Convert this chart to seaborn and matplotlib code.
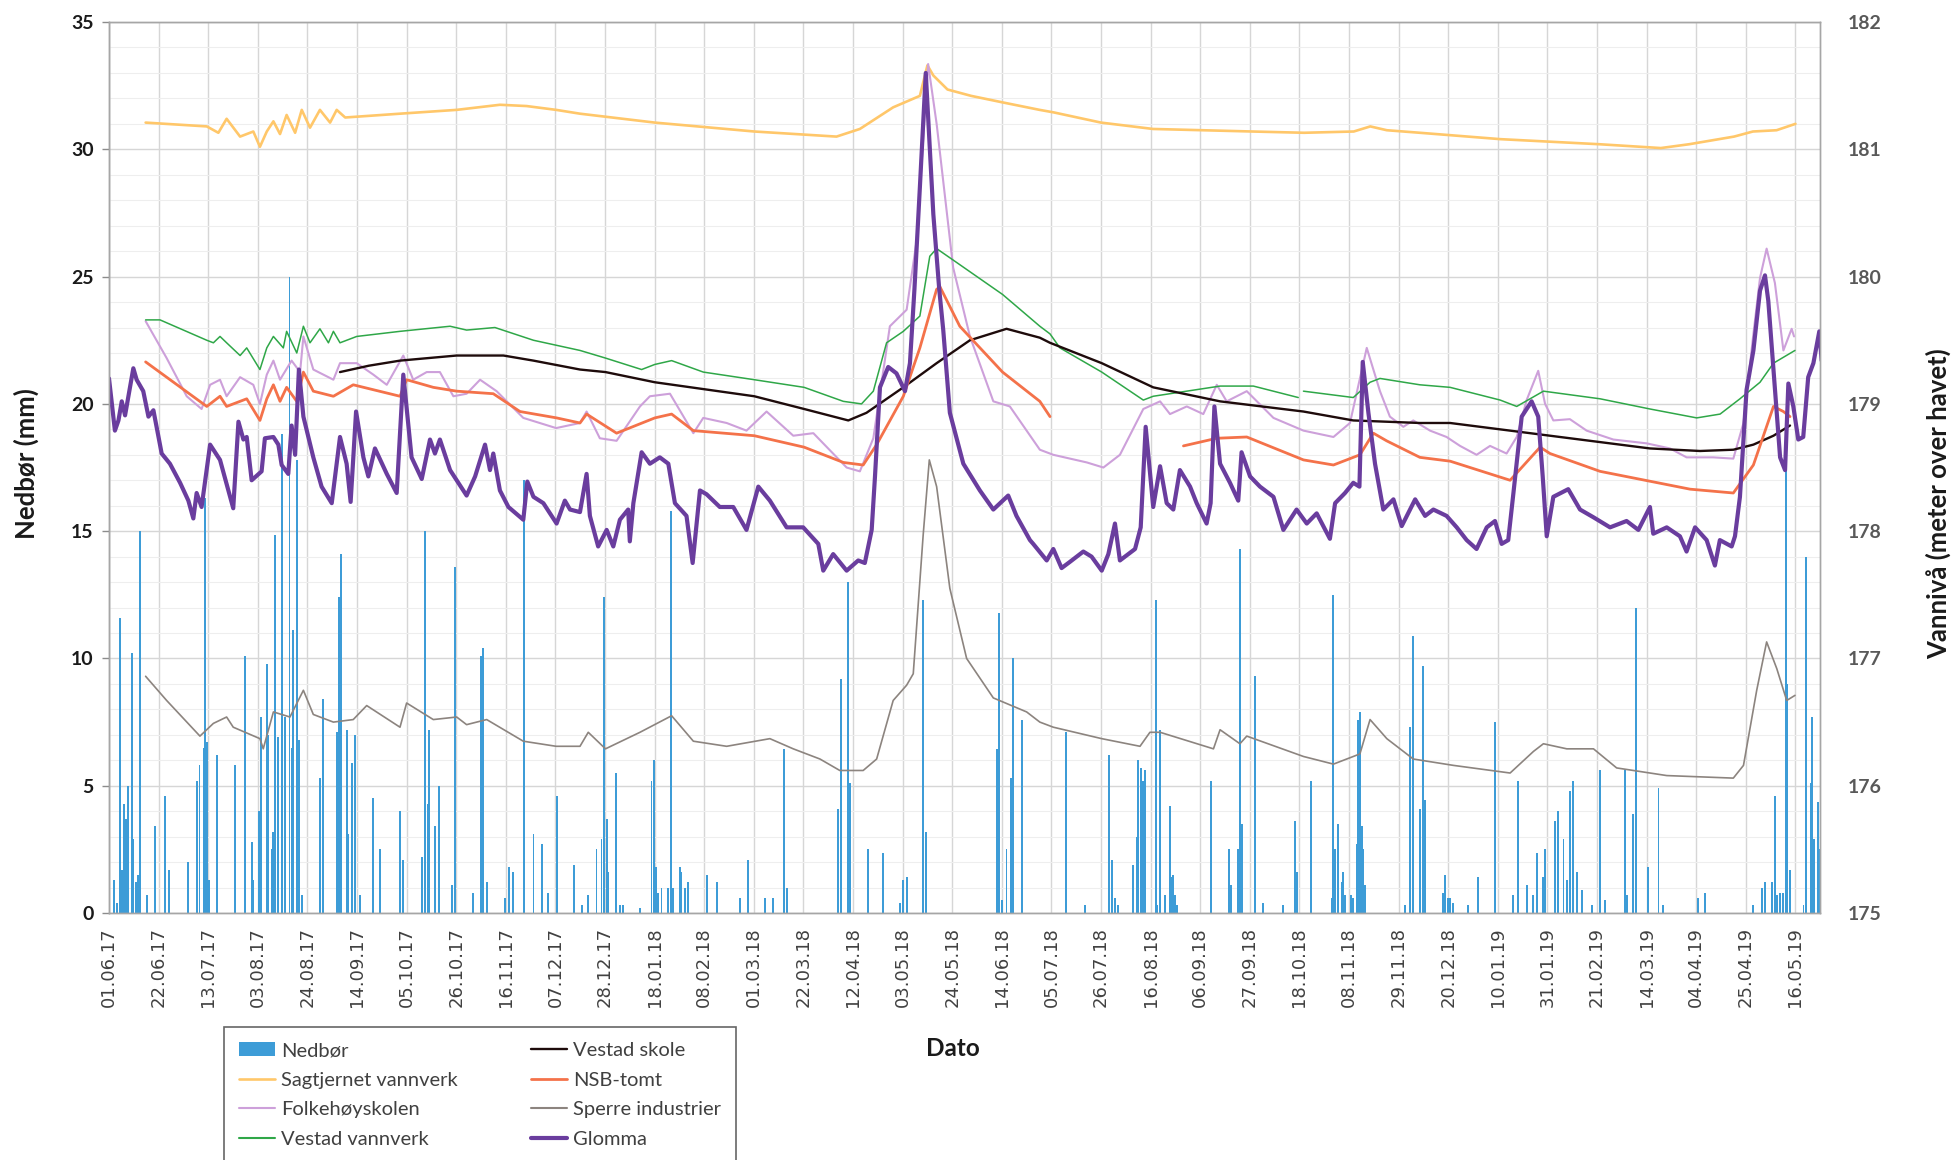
import numpy as np
import pandas as pd
import seaborn as sns
import matplotlib.pyplot as plt
from matplotlib.lines import Line2D
from matplotlib.patches import Patch
from matplotlib.ticker import MultipleLocator

START = pd.Timestamp("2017-06-01")

# (days since 01.06.17, level in m.o.h.); None = gap
sagtjernet = [(15.5, 181.21), (41.4, 181.18), (46.3, 181.13), (49.8, 181.24), (55.5, 181.10),
              (61.1, 181.14), (63.9, 181.02), (66.8, 181.14), (69.6, 181.22), (72.4, 181.12),
              (75.2, 181.27), (78.8, 181.13), (81.6, 181.31), (85.1, 181.17), (89.3, 181.31),
              (93.6, 181.21), (96.4, 181.31), (100.0, 181.25), (123.2, 181.28), (147.2, 181.31),
              (165.5, 181.35), (176.8, 181.34), (189.3, 181.31), (199.4, 181.28), (231.1, 181.21),
              (273.2, 181.14), (308.0, 181.10), (317.9, 181.16), (332.0, 181.33), (343.3, 181.42),
              (346.5, 181.66), (349.0, 181.58), (355.0, 181.47), (365.0, 181.42), (378.0, 181.37),
              (394.0, 181.31), (400.0, 181.29), (420.0, 181.21), (442.0, 181.16), (484.0, 181.14),
              (506.0, 181.13), (527.0, 181.14), (534.0, 181.18), (541.0, 181.15), (555.0, 181.13),
              (589.0, 181.08), (631.0, 181.04), (657.0, 181.01), (669.0, 181.04), (688.0, 181.10),
              (696.0, 181.14), (706.0, 181.15), (714.0, 181.20)]

folkehoyskolen = [(15.5, 179.65), (24.4, 179.36), (32.9, 179.06), (39.2, 178.96), (42.8, 179.15),
                  (47.0, 179.19), (49.8, 179.06), (55.5, 179.21), (61.1, 179.15), (63.9, 179.00),
                  (66.8, 179.23), (69.6, 179.34), (72.4, 179.19), (77.3, 179.34), (80.9, 179.25),
                  (82.3, 179.53), (86.5, 179.27), (95.0, 179.19), (97.8, 179.32), (104.9, 179.32),
                  (111.9, 179.23), (117.6, 179.15), (124.6, 179.38), (128.8, 179.19), (134.5, 179.25),
                  (140.1, 179.25), (145.8, 179.06), (151.4, 179.08), (157.1, 179.19), (164.1, 179.10),
                  (175.4, 178.89), (189.3, 178.81), (199.4, 178.85), (202.2, 178.94), (207.8, 178.73),
                  (214.9, 178.71), (224.8, 178.98), (229.0, 179.06), (237.5, 179.08), (247.4, 178.77),
                  (251.6, 178.89), (261.5, 178.85), (269.9, 178.79), (278.4, 178.94), (289.7, 178.75),
                  (298.2, 178.77), (312.3, 178.50), (317.9, 178.47), (323.6, 178.73), (330.6, 179.61),
                  (337.7, 179.74), (341.9, 180.28), (346.8, 181.67), (350.4, 181.20), (357.4, 180.07),
                  (364.5, 179.53), (374.4, 179.02), (381.4, 178.98), (394.1, 178.64), (399.8, 178.60),
                  (414.0, 178.54), (421.0, 178.50), (428.0, 178.60), (437.9, 178.96), (445.0, 179.02),
                  (449.2, 178.92), (456.3, 178.98), (463.3, 178.92), (469.0, 179.15), (473.2, 179.02),
                  (481.7, 179.10), (493.0, 178.89), (505.7, 178.79), (518.4, 178.74), (525.4, 178.85),
                  (532.5, 179.44), (538.1, 179.10), (542.3, 178.90), (548.0, 178.82), (552.2, 178.87),
                  (559.3, 178.79), (566.3, 178.74), (572.0, 178.67), (579.0, 178.60), (584.7, 178.67),
                  (591.7, 178.61), (596.0, 178.74), (600.2, 179.03), (605.1, 179.26), (608.0, 179.00),
                  (611.5, 178.87), (618.5, 178.88), (625.6, 178.79), (636.9, 178.72), (651.0, 178.69),
                  (660.9, 178.65), (667.9, 178.58), (679.2, 178.58), (687.7, 178.57), (692.0, 178.85),
                  (696.2, 179.55), (699.0, 179.99), (701.8, 180.22), (705.3, 179.95), (708.9, 179.42),
                  (712.4, 179.59), (713.4, 179.53)]

vestad_vannverk = [(15.5, 179.66), (21.6, 179.66), (41.4, 179.50), (44.2, 179.48), (47.0, 179.53),
                   (49.8, 179.48), (55.5, 179.38), (58.3, 179.44), (63.9, 179.27), (66.8, 179.44),
                   (69.6, 179.53), (73.8, 179.44), (75.2, 179.57), (79.5, 179.40), (82.3, 179.61),
                   (85.1, 179.48), (89.3, 179.59), (92.9, 179.48), (95.0, 179.57), (97.8, 179.48),
                   (104.9, 179.53), (123.2, 179.57), (144.4, 179.61), (151.4, 179.58), (163.4, 179.60),
                   (179.7, 179.50), (199.4, 179.42), (210.2, 179.36), (225.5, 179.27), (231.1, 179.31),
                   (238.2, 179.34), (251.6, 179.25), (273.2, 179.19), (294.3, 179.13), (310.9, 179.02),
                   (318.6, 179.00), (323.6, 179.10), (329.2, 179.48), (336.3, 179.57), (343.3, 179.69),
                   (347.5, 180.16), (350.4, 180.22), (357.4, 180.13), (378.3, 179.86), (394.1, 179.61),
                   (398.4, 179.55), (402.6, 179.44), (420.3, 179.25), (437.9, 179.03), (442.1, 179.06),
                   (470.4, 179.14), (484.5, 179.14), (503.5, 179.05), (504.5, None), (505.7, 179.10),
                   (526.8, 179.05), (533.9, 179.17), (538.1, 179.20), (555.0, 179.15), (567.8, 179.13),
                   (589.0, 179.03), (596.0, 178.98), (607.3, 179.10), (631.3, 179.04), (652.4, 178.96),
                   (672.2, 178.89), (682.1, 178.92), (690.5, 179.04), (699.0, 179.17), (704.7, 179.32),
                   (713.8, 179.42)]

vestad_skole = [(97.8, 179.25), (110.0, 179.30), (123.2, 179.34), (147.2, 179.38), (167.0, 179.38),
                (179.7, 179.34), (199.4, 179.27), (210.2, 179.25), (231.1, 179.17), (273.2, 179.06),
                (294.3, 178.96), (313.0, 178.87), (320.7, 178.93), (336.3, 179.13), (350.4, 179.32),
                (364.5, 179.50), (380.0, 179.59), (394.1, 179.52), (398.4, 179.48), (420.3, 179.32),
                (442.1, 179.13), (470.4, 179.02), (505.7, 178.94), (526.8, 178.87), (555.0, 178.85),
                (567.8, 178.85), (610.1, 178.75), (652.4, 178.65), (673.6, 178.63), (687.7, 178.64),
                (696.2, 178.68), (704.7, 178.75), (711.7, 178.83)]

nsb_tomt = [(15.5, 179.33), (41.4, 178.98), (44.2, 179.02), (47.0, 179.06), (49.8, 178.98),
            (58.3, 179.04), (63.9, 178.87), (66.8, 179.04), (69.6, 179.15), (72.4, 179.02),
            (75.2, 179.13), (79.5, 179.02), (82.3, 179.25), (86.5, 179.10), (95.0, 179.06),
            (103.4, 179.15), (123.2, 179.06), (126.0, 179.19), (137.3, 179.13), (147.2, 179.10),
            (162.7, 179.08), (174.0, 178.94), (189.5, 178.89), (199.4, 178.85), (202.2, 178.92),
            (214.9, 178.77), (231.1, 178.89), (238.2, 178.92), (247.4, 178.79), (273.2, 178.75),
            (294.3, 178.66), (310.9, 178.54), (319.3, 178.52), (325.0, 178.68), (336.3, 179.06),
            (343.3, 179.44), (350.4, 179.90), (351.8, 179.92), (360.2, 179.61), (378.3, 179.25),
            (394.1, 179.02), (398.4, 178.90), (420.0, None), (454.9, 178.67), (469.0, 178.73),
            (481.7, 178.74), (505.7, 178.56), (518.4, 178.52), (529.6, 178.60), (535.3, 178.77),
            (540.9, 178.71), (555.0, 178.58), (567.8, 178.55), (593.2, 178.40), (605.9, 178.66),
            (610.1, 178.61), (631.3, 178.47), (669.4, 178.33), (687.7, 178.30), (696.2, 178.52),
            (704.7, 178.98), (708.9, 178.94), (711.7, 178.90)]

sperre = [(15.5, 176.86), (24.4, 176.67), (38.5, 176.39), (44.2, 176.49), (49.8, 176.54),
          (52.6, 176.46), (63.9, 176.37), (65.3, 176.29), (69.6, 176.58), (76.6, 176.54),
          (82.3, 176.75), (86.5, 176.56), (95.0, 176.50), (103.4, 176.52), (109.1, 176.63),
          (123.2, 176.46), (126.0, 176.65), (137.3, 176.52), (147.2, 176.54), (151.4, 176.48),
          (159.9, 176.52), (175.4, 176.35), (189.3, 176.31), (199.4, 176.31), (202.9, 176.42),
          (210.2, 176.29), (224.8, 176.42), (238.2, 176.55), (247.4, 176.35), (261.5, 176.31),
          (279.8, 176.37), (289.7, 176.29), (301.0, 176.21), (309.4, 176.12), (319.3, 176.12),
          (325.0, 176.21), (332.0, 176.67), (337.7, 176.79), (340.5, 176.88), (344.7, 177.97),
          (347.3, 178.56), (350.4, 178.35), (356.0, 177.55), (363.1, 177.00), (374.4, 176.69),
          (388.5, 176.58), (394.1, 176.50), (399.8, 176.46), (420.3, 176.37), (436.5, 176.31),
          (440.7, 176.42), (445.0, 176.42), (467.6, 176.29), (470.4, 176.44), (478.8, 176.33),
          (481.7, 176.39), (505.7, 176.23), (518.4, 176.17), (529.6, 176.25), (533.9, 176.52),
          (541.0, 176.37), (552.2, 176.21), (569.2, 176.16), (593.2, 176.10), (603.1, 176.27),
          (607.3, 176.33), (617.2, 176.29), (628.5, 176.29), (638.3, 176.14), (659.5, 176.08),
          (687.7, 176.06), (692.0, 176.16), (697.6, 176.75), (701.8, 177.13), (706.1, 176.92),
          (710.3, 176.67), (713.8, 176.71)]

glomma = [(0.0, 179.20), (2.5, 178.79), (4.0, 178.87), (5.4, 179.02), (6.8, 178.91), (10.3, 179.28),
          (11.7, 179.19), (14.5, 179.10), (16.7, 178.90), (18.8, 178.95), (22.3, 178.61), (25.8, 178.53),
          (30.1, 178.38), (33.6, 178.24), (35.7, 178.10), (37.1, 178.30), (39.2, 178.19), (42.8, 178.68),
          (47.0, 178.56), (52.6, 178.18), (54.8, 178.86), (56.9, 178.72), (58.3, 178.74), (60.4, 178.40),
          (64.6, 178.47), (66.0, 178.73), (69.6, 178.74), (71.7, 178.68), (73.1, 178.52), (75.9, 178.45),
          (77.3, 178.83), (78.8, 178.60), (80.4, 179.27), (82.3, 178.90), (86.5, 178.58), (90.0, 178.35),
          (94.3, 178.22), (97.8, 178.74), (100.6, 178.53), (102.3, 178.23), (104.6, 178.94), (107.7, 178.58),
          (109.8, 178.43), (112.6, 178.65), (117.6, 178.45), (121.8, 178.30), (124.6, 179.23), (128.1, 178.58),
          (132.4, 178.41), (135.9, 178.72), (138.0, 178.61), (140.1, 178.72), (144.4, 178.48), (151.4, 178.28),
          (155.0, 178.43), (159.2, 178.68), (161.3, 178.48), (162.7, 178.61), (165.5, 178.32), (169.1, 178.19),
          (175.4, 178.09), (177.1, 178.39), (179.7, 178.27), (183.9, 178.22), (189.5, 178.06), (193.0, 178.24),
          (195.2, 178.17), (199.4, 178.15), (202.2, 178.45), (203.6, 178.12), (207.1, 177.88), (210.7, 178.01),
          (213.5, 177.88), (216.3, 178.09), (219.8, 178.17), (220.5, 177.92), (222.0, 178.22), (225.5, 178.62),
          (229.0, 178.53), (233.2, 178.58), (236.8, 178.53), (239.6, 178.22), (244.5, 178.12), (247.1, 177.75),
          (250.2, 178.32), (253.0, 178.29), (258.6, 178.19), (264.3, 178.19), (269.9, 178.01), (274.9, 178.35),
          (279.8, 178.24), (286.9, 178.03), (293.9, 178.03), (300.3, 177.90), (302.4, 177.69), (306.6, 177.82),
          (312.3, 177.69), (317.2, 177.77), (320.0, 177.75), (322.9, 178.01), (324.3, 178.43), (326.4, 179.13),
          (329.9, 179.29), (333.4, 179.24), (337.0, 179.10), (339.1, 179.32), (341.0, 179.90), (343.3, 180.70),
          (345.8, 181.60), (349.0, 180.49), (351.5, 179.90), (353.2, 179.58), (356.0, 178.93), (361.7, 178.53),
          (368.7, 178.32), (374.4, 178.17), (380.7, 178.28), (384.2, 178.12), (389.9, 177.93), (391.3, 177.90),
          (397.0, 177.77), (399.8, 177.86), (403.3, 177.71), (406.9, 177.76), (412.5, 177.84), (416.0, 177.80),
          (420.3, 177.69), (423.1, 177.82), (425.9, 178.06), (428.0, 177.77), (434.4, 177.86), (436.8, 178.03),
          (438.9, 178.82), (442.1, 178.19), (445.0, 178.51), (447.8, 178.22), (450.6, 178.17), (453.4, 178.48),
          (457.7, 178.35), (460.5, 178.22), (464.7, 178.06), (466.4, 178.22), (468.0, 178.98), (470.4, 178.53),
          (474.6, 178.38), (478.1, 178.24), (479.5, 178.62), (483.1, 178.43), (487.3, 178.35), (493.0, 178.27),
          (497.2, 178.01), (502.8, 178.17), (507.1, 178.06), (511.3, 178.14), (516.9, 177.94), (519.1, 178.22),
          (523.3, 178.30), (526.8, 178.38), (529.4, 178.35), (530.8, 179.33), (533.2, 178.93), (536.0, 178.53),
          (539.5, 178.17), (543.8, 178.25), (547.3, 178.04), (553.0, 178.25), (557.2, 178.12), (560.7, 178.17),
          (566.3, 178.12), (570.6, 178.03), (574.8, 177.93), (579.0, 177.86), (583.3, 178.03), (586.8, 178.08),
          (589.6, 177.90), (592.4, 177.93), (594.6, 178.30), (598.1, 178.90), (602.3, 179.02), (605.1, 178.90),
          (607.0, 178.43), (608.7, 177.96), (611.5, 178.27), (617.8, 178.33), (622.8, 178.17), (628.4, 178.11),
          (635.5, 178.03), (642.5, 178.08), (647.5, 178.01), (652.4, 178.19), (653.8, 177.98), (659.5, 178.03),
          (665.1, 177.96), (667.9, 177.84), (671.5, 178.03), (676.4, 177.93), (679.9, 177.73), (682.0, 177.93),
          (687.0, 177.88), (688.4, 177.96), (690.5, 178.27), (693.3, 179.11), (696.2, 179.42), (699.0, 179.89),
          (701.1, 180.01), (702.5, 179.81), (704.6, 179.29), (707.5, 178.58), (709.6, 178.48), (711.0, 179.16),
          (713.1, 178.98), (715.2, 178.72), (717.3, 178.74), (719.4, 179.21), (721.6, 179.32), (724.1, 179.57),
          (725.1, 179.34)]

# daily precipitation (days since 01.06.17, mm)
nedbor = [(2.1, 1.3), (3.2, 0.4), (4.7, 11.6), (5.4, 1.7), (6.4, 4.3), (7.2, 3.7), (8.2, 5.0),
          (9.6, 10.2), (10.3, 2.9), (11.4, 1.2), (12.4, 1.5), (13.1, 15.0), (16.2, 0.7), (19.5, 3.4),
          (23.7, 4.6), (25.5, 1.7), (33.6, 2.0), (37.4, 5.2), (38.3, 5.8), (40.0, 6.5), (40.6, 16.3),
          (41.4, 6.7), (42.5, 1.3), (45.6, 6.2), (53.3, 5.8), (57.6, 10.1), (60.4, 2.8), (61.1, 1.3),
          (63.6, 4.0), (64.4, 7.7), (66.8, 9.8), (67.5, 7.0), (68.9, 2.5), (69.6, 3.2), (70.3, 14.85),
          (71.7, 6.9), (73.1, 18.8), (74.5, 7.7), (76.4, 25.0), (77.3, 6.5), (78.0, 11.1), (79.5, 17.8),
          (80.6, 6.8), (81.6, 0.7), (89.3, 5.3), (90.5, 8.4), (96.4, 7.1), (97.5, 12.4), (98.1, 14.1),
          (100.6, 7.2), (101.3, 3.1), (102.7, 5.9), (104.1, 7.0), (106.3, 0.7), (111.9, 4.5),
          (114.7, 2.5), (123.2, 4.0), (124.6, 2.1), (132.4, 2.2), (133.8, 15.0), (134.9, 4.3),
          (135.6, 7.2), (138.0, 3.4), (139.9, 5.0), (145.1, 1.1), (146.5, 13.6), (154.2, 0.8),
          (157.4, 10.1), (158.5, 10.4), (159.9, 1.2), (167.7, 0.6), (169.5, 1.8), (171.2, 1.6),
          (175.7, 17.0), (179.7, 3.1), (183.2, 2.7), (186.0, 0.8), (189.5, 4.6), (196.9, 1.9),
          (200.1, 0.3), (202.9, 0.7), (206.4, 2.5), (208.5, 2.9), (209.7, 12.4), (210.7, 3.7),
          (211.4, 1.6), (214.5, 5.5), (216.3, 0.3), (217.7, 0.3), (224.8, 0.2), (229.7, 5.2),
          (230.8, 6.0), (231.5, 1.8), (232.5, 0.8), (233.9, 1.0), (236.8, 1.0), (237.8, 15.8),
          (238.9, 1.0), (241.7, 1.8), (242.4, 1.6), (243.8, 1.0), (245.2, 1.2), (253.0, 1.5),
          (257.5, 1.2), (267.1, 0.6), (270.6, 2.1), (277.7, 0.6), (281.2, 0.6), (285.7, 6.45),
          (286.9, 1.0), (308.7, 4.1), (309.9, 9.2), (313.0, 13.0), (313.7, 5.1), (321.4, 2.5),
          (327.8, 2.35), (334.8, 0.4), (336.3, 1.3), (337.7, 1.4), (344.7, 12.3), (345.9, 3.2),
          (375.8, 6.45), (376.9, 11.8), (377.9, 0.5), (380.0, 2.5), (381.8, 5.3), (382.8, 10.0),
          (386.4, 7.6), (405.0, 7.1), (413.2, 0.3), (423.5, 6.2), (424.5, 2.1), (425.9, 0.6),
          (427.3, 0.3), (433.7, 1.9), (435.1, 3.0), (435.8, 6.0), (436.9, 5.7), (437.6, 5.2),
          (438.6, 5.6), (443.3, 12.3), (443.8, 0.3), (445.0, 7.2), (447.1, 0.7), (449.2, 4.2),
          (449.9, 1.4), (450.6, 1.5), (451.3, 0.7), (452.0, 0.3), (466.4, 5.2), (474.3, 2.5),
          (474.9, 1.1), (478.1, 2.5), (478.8, 14.3), (479.5, 3.5), (485.2, 9.3), (488.7, 0.4),
          (497.2, 0.3), (502.1, 3.6), (502.8, 1.6), (508.9, 5.2), (517.6, 0.6), (518.1, 12.5),
          (519.1, 2.5), (520.5, 3.5), (521.9, 1.2), (522.6, 1.6), (523.3, 0.7), (525.8, 0.7),
          (526.8, 0.6), (528.2, 2.7), (528.9, 7.6), (529.6, 7.9), (530.4, 3.4), (531.1, 2.5),
          (531.8, 1.1), (548.7, 0.3), (550.8, 7.3), (551.9, 10.9), (555.0, 4.1), (556.5, 9.7),
          (557.2, 4.45), (564.9, 0.8), (565.6, 1.5), (567.0, 0.6), (567.7, 0.6), (569.2, 0.4),
          (575.5, 0.3), (579.7, 1.4), (586.8, 7.5), (594.6, 0.7), (596.4, 5.2), (600.2, 1.1),
          (603.0, 0.7), (604.5, 2.35), (607.3, 1.4), (608.0, 2.5), (612.2, 3.6), (613.6, 4.0),
          (615.8, 2.9), (617.2, 1.3), (618.6, 4.8), (620.0, 5.2), (621.4, 1.6), (623.5, 0.9),
          (627.7, 0.3), (631.3, 5.6), (633.4, 0.5), (641.9, 5.6), (642.6, 0.7), (645.4, 3.9),
          (646.5, 12.0), (651.7, 1.8), (656.0, 4.9), (658.1, 0.3), (672.9, 0.6), (675.7, 0.8),
          (696.2, 0.3), (699.7, 1.0), (701.1, 1.2), (704.0, 1.2), (705.4, 4.6), (706.1, 0.7),
          (707.5, 0.8), (708.6, 0.8), (710.0, 17.4), (710.6, 9.0), (711.7, 1.7), (717.4, 0.3),
          (718.4, 14.0), (720.5, 5.1), (721.0, 7.7), (722.0, 2.9), (723.7, 4.35), (724.1, 2.5)]

series = [
    ("Sagtjernet vannverk", sagtjernet, "#FFC76A", 1.9),
    ("Folkehøyskolen", folkehoyskolen, "#CDA0DA", 1.5),
    ("Vestad vannverk", vestad_vannverk, "#2FA748", 1.1),
    ("Vestad skole", vestad_skole, "#1E0B0B", 1.7),
    ("NSB-tomt", nsb_tomt, "#F4724A", 2.0),
    ("Sperre industrier", sperre, "#8C847F", 1.2),
    ("Glomma", glomma, "#6A3D9E", 3.0),
]
BAR_COLOR = "#3D9CD7"


def to_frame(points):
    df = pd.DataFrame(points, columns=["day", "value"]).astype(float)
    df["date"] = START + pd.to_timedelta(df["day"], unit="D")
    return df


sns.set_style("white")
plt.rcParams["font.family"] = ["Lato", "DejaVu Sans"]

fig = plt.figure(figsize=(19.57, 11.6), dpi=100)
ax = fig.add_axes([0.0557, 0.2129, 0.8743, 0.7681])
ax2 = ax.twinx()

# precipitation bars on the left axis
rain = to_frame(nedbor)
ax.bar(rain["date"], rain["value"], width=0.8, color=BAR_COLOR, linewidth=0, zorder=2)

# water levels on the right axis, broken where data is missing
for name, pts, color, lw in series:
    df = to_frame(pts)
    ok = df["value"].notna()
    seg = (~ok).cumsum()
    for _, part in df[ok].groupby(seg[ok]):
        sns.lineplot(data=part, x="date", y="value", ax=ax2, color=color, lw=lw,
                     estimator=None, sort=False, legend=False)

end = START + pd.Timedelta(days=724.4)
ax.set_xlim(START, end)
ax2.set_xlim(START, end)
ax.set_ylim(0, 35)
ax2.set_ylim(175, 182)

ticks = pd.date_range("2017-06-01", "2019-05-16", freq="21D")
ax.set_xticks(ticks, [t.strftime("%d.%m.%y") for t in ticks], rotation=90,
              fontfamily="DejaVu Sans", fontsize=13, color="#404040")
ax.set_yticks(range(0, 36, 5), [str(v) for v in range(0, 36, 5)],
              fontsize=14, fontweight="bold", color="#1a1a1a")
ax2.set_yticks(range(175, 183), [str(v) for v in range(175, 183)],
               fontsize=14, fontweight="bold", color="#595959")
ax.yaxis.set_minor_locator(MultipleLocator(1))

ax.set_axisbelow(True)
ax.grid(which="major", axis="both", color="#D6D6D6", lw=1.0)
ax.grid(which="minor", axis="y", color="#EEEEEE", lw=0.8)
ax2.grid(False)

ax.tick_params(axis="x", length=5, width=1, color="#A6A6A6", pad=5)
ax.tick_params(axis="y", which="major", length=5, width=1, color="#8C8C8C", pad=6)
ax.tick_params(axis="y", which="minor", length=0)
ax2.tick_params(axis="y", length=0, pad=20)

for sp in list(ax.spines.values()) + list(ax2.spines.values()):
    sp.set_color("#A6A6A6")
    sp.set_linewidth(1.0)
ax.spines["left"].set_color("#8C8C8C")

ax.set_xlabel("")
ax2.set_xlabel("")
ax.set_ylabel("Nedbør (mm)", fontsize=18.5, fontweight="bold", color="#1a1a1a")
ax.yaxis.set_label_coords(-0.041, 0.505)
ax2.set_ylabel("Vannivå (meter over havet)", fontsize=18.5, fontweight="bold",
               color="#1a1a1a", rotation=90)
ax2.yaxis.set_label_coords(1.062, 0.46)
fig.text(0.487, 0.0957, "Dato", fontsize=17.5, fontweight="bold", color="#1a1a1a",
         ha="center", va="center")

handles = [Patch(facecolor=BAR_COLOR, edgecolor="none", label="Nedbør")]
handles += [Line2D([], [], color=c, lw=max(w, 1.5), label=n) for n, _, c, w in series]
leg = fig.legend(handles=handles, loc="upper left", bbox_to_anchor=(0.1145, 0.1147),
                 ncol=2, frameon=True, fancybox=False, borderaxespad=0,
                 prop={"family": "Lato", "size": 14.5}, labelcolor="#404040",
                 handlelength=1.8, handletextpad=0.3, columnspacing=3.6,
                 labelspacing=0.62, borderpad=0.75)
leg.get_frame().set_edgecolor("#404040")
leg.get_frame().set_linewidth(1.2)

fig.savefig("out.png", dpi=100)
